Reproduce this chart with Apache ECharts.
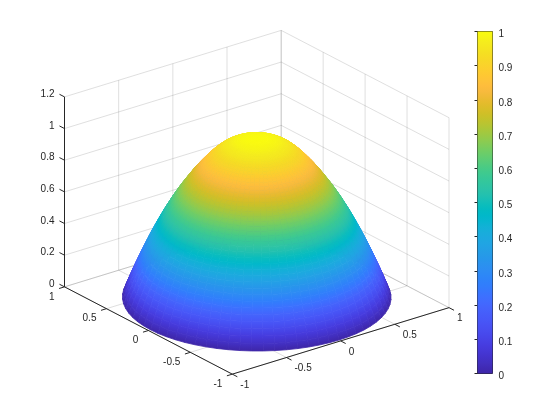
<!DOCTYPE html>
<html lang="en">
<head>
    <meta charset="UTF-8">
    <script src="https://cdn.jsdelivr.net/npm/echarts@6/dist/echarts.min.js"></script>
    <title>Dome surface</title>
    <style>
        html, body { margin: 0; padding: 0; background: #fff; }
        #main { width: 560px; height: 420px; }
    </style>
</head>
<body>
    <div id="main"></div>
    <script>
        var xTicks = [-1, -0.5, 0, 0.5, 1];
        var yTicks = [-1, -0.5, 0, 0.5, 1];
        var zTicks = [0, 0.2, 0.4, 0.6, 0.8, 1, 1.2];
        var xLabels = ['-1', '-0.5', '0', '0.5', '1'];
        var yLabels = ['-1', '-0.5', '0', '0.5', '1'];
        var zLabels = ['0', '0.2', '0.4', '0.6', '0.8', '1', '1.2'];

        // dome profile: height at each radius
        var radii = [0, 0.02, 0.04, 0.06, 0.08, 0.1, 0.12, 0.14, 0.16, 0.18, 0.2, 0.22, 0.24, 0.26, 0.28, 0.3, 0.32, 0.34, 0.36, 0.38, 0.4, 0.42, 0.44, 0.46, 0.48, 0.5, 0.52, 0.54, 0.56, 0.58, 0.6, 0.62, 0.64, 0.66, 0.68, 0.7, 0.72, 0.74, 0.76, 0.78, 0.8, 0.82, 0.84, 0.86, 0.88, 0.9, 0.92, 0.94, 0.96, 0.98];
        var heights = [1, 1, 0.999, 0.998, 0.997, 0.995, 0.992, 0.988, 0.984, 0.978, 0.971, 0.963, 0.954, 0.944, 0.932, 0.919, 0.905, 0.89, 0.874, 0.857, 0.839, 0.821, 0.802, 0.782, 0.762, 0.74, 0.718, 0.696, 0.673, 0.65, 0.625, 0.6, 0.574, 0.546, 0.519, 0.49, 0.46, 0.43, 0.399, 0.367, 0.334, 0.3, 0.265, 0.23, 0.194, 0.157, 0.119, 0.08, 0.04, 0];
        var angles = [0, 5, 10, 15, 20, 25, 30, 35, 40, 45, 50, 55, 60, 65, 70, 75, 80, 85, 90, 95, 100, 105, 110, 115, 120, 125, 130, 135, 140, 145, 150, 155, 160, 165, 170, 175, 180, 185, 190, 195, 200, 205, 210, 215, 220, 225, 230, 235, 240, 245, 250, 255, 260, 265, 270, 275, 280, 285, 290, 295, 300, 305, 310, 315, 320, 325, 330, 335, 340, 345, 350, 355, 360];

        var parula = ['#3e26a8', '#402ab4', '#4230c0', '#4332cb', '#4537d5', '#463bde', '#4741e5', '#4747eb', '#484df0', '#4852f4', '#4758f8', '#465dfa', '#4563fc', '#4269fe', '#3e6fff', '#3875fe', '#327cfc', '#2f81fa', '#2d87f7', '#2d8cf3', '#2b91ef', '#2796eb', '#259be7', '#23a0e5', '#20a5e3', '#1ca9df', '#18addb', '#12b1d6', '#08b5d0', '#01b8ca', '#02bac3', '#0bbdbc', '#18bfb6', '#24c1ae', '#2cc3a7', '#31c69f', '#37c897', '#3fca8e', '#4acb84', '#57cc7a', '#64cd6f', '#71cd64', '#80cc59', '#8fcb4e', '#9dc943', '#abc739', '#b9c431', '#c5c22a', '#d1bf27', '#dcbd29', '#e6bb2d', '#efba36', '#f8ba3d', '#febd3c', '#fec338', '#fec832', '#fcce2e', '#f9d42a', '#f7d925', '#f5df22', '#f5e61f', '#f5ec1d', '#f7f416', '#f9fb0e'];

        // screen vectors per data unit, measured from the box corners
        var origin = [256.75, 297.25];
        var ex = [108.35, -33.25];
        var ey = [-83.9, -43.65];
        var ez = [0, -158.3];

        function project(x, y, z) {
            return [
                origin[0] + x * ex[0] + y * ey[0] + z * ez[0],
                origin[1] + x * ex[1] + y * ey[1] + z * ez[1]
            ];
        }

        function hexToRgb(h) {
            return [parseInt(h.substr(1, 2), 16), parseInt(h.substr(3, 2), 16), parseInt(h.substr(5, 2), 16)];
        }

        function colorOf(v) {
            var t = Math.max(0, Math.min(1, v)) * (parula.length - 1);
            var i = Math.min(parula.length - 2, Math.floor(t));
            var c0 = hexToRgb(parula[i]), c1 = hexToRgb(parula[i + 1]), f = t - i;
            return 'rgb(' + Math.round(c0[0] + (c1[0] - c0[0]) * f) + ',' + Math.round(c0[1] + (c1[1] - c0[1]) * f) + ',' + Math.round(c0[2] + (c1[2] - c0[2]) * f) + ')';
        }

        function rimPoint(ring, a) {
            var t = angles[a] * Math.PI / 180;
            return [radii[ring] * Math.cos(t), radii[ring] * Math.sin(t), heights[ring]];
        }

        // surface cells, far to near
        var cells = [];
        for (var ring = 0; ring < radii.length - 1; ring++) {
            for (var a = 0; a < angles.length - 1; a++) {
                var p1 = rimPoint(ring, a), p2 = rimPoint(ring, a + 1);
                var p3 = rimPoint(ring + 1, a + 1), p4 = rimPoint(ring + 1, a);
                var mx = (p1[0] + p2[0] + p3[0] + p4[0]) / 4;
                var my = (p1[1] + p2[1] + p3[1] + p4[1]) / 4;
                var mz = (p1[2] + p2[2] + p3[2] + p4[2]) / 4;
                cells.push({ pts: [p1, p2, p3, p4], depth: 0.61 * mx + 0.79 * my - 0.35 * mz });
            }
        }
        cells.sort(function (s, t) { return t.depth - s.depth; });

        // box segments
        var gridSegs = [];
        xTicks.forEach(function (x) {
            gridSegs.push([[x, 1, 0], [x, 1, 1.2]]);
            gridSegs.push([[x, -1, 0], [x, 1, 0]]);
        });
        yTicks.forEach(function (y) {
            gridSegs.push([[1, y, 0], [1, y, 1.2]]);
            gridSegs.push([[-1, y, 0], [1, y, 0]]);
        });
        zTicks.forEach(function (z) {
            gridSegs.push([[-1, 1, z], [1, 1, z]]);
            gridSegs.push([[1, -1, z], [1, 1, z]]);
        });

        var axisSegs = [
            [[-1, 1, 0], [-1, 1, 1.2]],
            [[-1, -1, 0], [-1, 1, 0]],
            [[-1, -1, 0], [1, -1, 0]]
        ];
        zTicks.forEach(function (z) { axisSegs.push([[-1, 1, z], [-1, 1.06, z]]); });
        yTicks.forEach(function (y) { axisSegs.push([[-1, y, 0], [-1.05, y, 0]]); });
        xTicks.forEach(function (x) { axisSegs.push([[x, -1, 0], [x, -1.06, 0]]); });

        var texts = [];
        zTicks.forEach(function (z, i) {
            texts.push({ pos: project(-1, 1, z), dx: -10, dy: -2.5, align: 'right', text: zLabels[i] });
        });
        yTicks.forEach(function (y, i) {
            texts.push({ pos: project(-1, y, 0), dx: -10, dy: 10, align: 'right', text: yLabels[i] });
        });
        xTicks.forEach(function (x, i) {
            texts.push({ pos: project(x, -1, 0), dx: 8, dy: 11, align: 'left', text: xLabels[i] });
        });

        function lineEl(api, seg, color) {
            var s = api.coord(project(seg[0][0], seg[0][1], seg[0][2]));
            var e = api.coord(project(seg[1][0], seg[1][1], seg[1][2]));
            return {
                type: 'line',
                shape: { x1: s[0], y1: s[1], x2: e[0], y2: e[1] },
                style: { stroke: color, lineWidth: 1, fill: null }
            };
        }

        var textColor = '#262626';
        var fontFamily = '"Liberation Sans", Arial, sans-serif';

        var option = {
            animation: false,
            backgroundColor: '#fff',
            grid: [
                { left: 0, top: 0, width: 560, height: 420, show: false },
                { left: 477.5, top: 31.5, width: 15, height: 342, show: true, borderColor: textColor, borderWidth: 1, backgroundColor: 'transparent' }
            ],
            xAxis: [
                { gridIndex: 0, type: 'value', min: 0, max: 560, show: false },
                { gridIndex: 1, type: 'value', min: 0, max: 1, show: false }
            ],
            yAxis: [
                { gridIndex: 0, type: 'value', min: 0, max: 420, inverse: true, show: false },
                {
                    gridIndex: 1, type: 'value', min: 0, max: 1, interval: 0.1, position: 'right',
                    axisLine: { show: true, lineStyle: { color: textColor, width: 1 } },
                    axisTick: { show: true, inside: true, length: 3, lineStyle: { color: textColor, width: 1 } },
                    splitLine: { show: false },
                    axisLabel: {
                        color: textColor, fontSize: 10, fontFamily: fontFamily, margin: 6,
                        verticalAlign: 'top', lineHeight: 6, hideOverlap: false,
                        formatter: function (v) { return String(Math.round(v * 10) / 10); }
                    }
                }
            ],
            series: [
                {
                    type: 'custom', xAxisIndex: 0, yAxisIndex: 0, silent: true, z: 1,
                    data: gridSegs.map(function (s, i) { return [i]; }),
                    renderItem: function (params, api) {
                        return lineEl(api, gridSegs[params.dataIndex], 'rgba(38,38,38,0.15)');
                    }
                },
                {
                    type: 'custom', xAxisIndex: 0, yAxisIndex: 0, silent: true, z: 2,
                    data: cells.map(function (c, i) { return [i]; }),
                    renderItem: function (params, api) {
                        var c = cells[params.dataIndex];
                        var pts = c.pts.map(function (p) { return api.coord(project(p[0], p[1], p[2])); });
                        // shade across the cell, inner ring to outer ring
                        var inner = [(pts[0][0] + pts[1][0]) / 2, (pts[0][1] + pts[1][1]) / 2];
                        var outer = [(pts[2][0] + pts[3][0]) / 2, (pts[2][1] + pts[3][1]) / 2];
                        var shade = new echarts.graphic.LinearGradient(inner[0], inner[1], outer[0], outer[1], [
                            { offset: 0, color: colorOf(c.pts[0][2]) },
                            { offset: 1, color: colorOf(c.pts[2][2]) }
                        ], true);
                        return {
                            type: 'polygon',
                            shape: { points: pts },
                            style: { fill: shade, stroke: shade, lineWidth: 0.8 }
                        };
                    }
                },
                {
                    type: 'custom', xAxisIndex: 0, yAxisIndex: 0, silent: true, z: 3,
                    data: axisSegs.map(function (s, i) { return [i]; }),
                    renderItem: function (params, api) {
                        return lineEl(api, axisSegs[params.dataIndex], textColor);
                    }
                },
                {
                    type: 'custom', xAxisIndex: 0, yAxisIndex: 0, silent: true, z: 4,
                    data: texts.map(function (t, i) { return [i]; }),
                    renderItem: function (params, api) {
                        var t = texts[params.dataIndex];
                        var c = api.coord(t.pos);
                        return {
                            type: 'text',
                            style: {
                                x: c[0] + t.dx, y: c[1] + t.dy, text: t.text, fill: textColor,
                                font: '10px ' + fontFamily, textAlign: t.align, textVerticalAlign: 'middle'
                            }
                        };
                    }
                },
                {
                    // colorbar
                    type: 'custom', xAxisIndex: 1, yAxisIndex: 1, silent: true, z: 1,
                    data: [[0]],
                    renderItem: function (params, api) {
                        var lo = api.coord([0, 0]);
                        var hi = api.coord([1, 1]);
                        return {
                            type: 'rect',
                            shape: { x: lo[0], y: hi[1], width: hi[0] - lo[0], height: lo[1] - hi[1] },
                            style: {
                                fill: new echarts.graphic.LinearGradient(0, 1, 0, 0, parula.map(function (c, i) {
                                    return { offset: i / (parula.length - 1), color: c };
                                }))
                            }
                        };
                    }
                }
            ]
        };

        var chart = echarts.init(document.getElementById('main'));
        chart.setOption(option);
    </script>
</body>
</html>
